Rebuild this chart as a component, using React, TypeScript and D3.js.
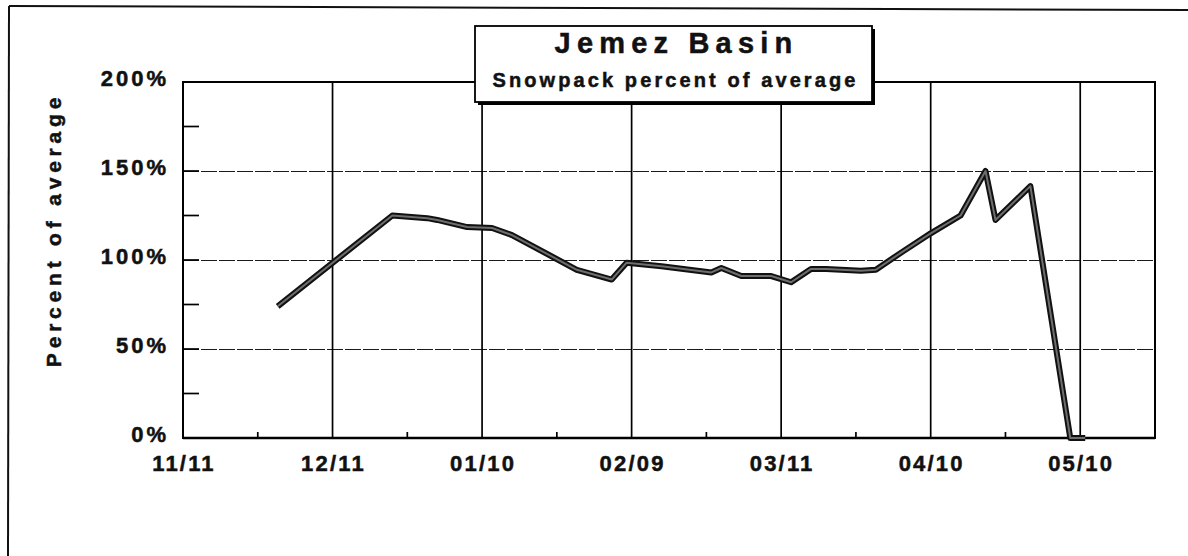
import React from "react";
import * as d3 from "d3";

const dates = [
  "11/30/2000", "12/23/2000", "12/30/2000", "01/01/2001", "01/07/2001", "01/12/2001",
  "01/16/2001", "01/29/2001", "02/05/2001", "02/08/2001", "02/15/2001", "02/25/2001",
  "02/27/2001", "03/03/2001", "03/09/2001", "03/13/2001", "03/17/2001", "03/20/2001",
  "03/27/2001", "03/30/2001", "04/04/2001", "04/10/2001", "04/16/2001", "04/21/2001",
  "04/23/2001", "04/30/2001", "05/08/2001", "05/11/2001",
];
const percentOfAverage = [
  74, 125, 123.5, 122.5, 118.5, 118,
  114, 94.5, 89, 98.5, 96.5, 93,
  95.5, 91, 91, 87.5, 95, 95,
  94, 94.5, 104, 115, 125, 150,
  122.5, 141.5, 0, 0,
];
const xTickDates = ["11/11/2000", "12/11/2000", "01/10/2001", "02/09/2001", "03/11/2001", "04/10/2001", "05/10/2001"];
const xMinorDates = ["11/26/2000", "12/26/2000", "01/25/2001", "02/24/2001", "03/26/2001", "04/25/2001", "05/25/2001"];
const xDomainDates = ["11/11/2000", "05/25/2001"];
const yTicks = [0, 50, 100, 150, 200];
const yMinorTicks = [25, 75, 125, 175];
const yGridValues = [50, 100, 150];
const title = "Jemez Basin";
const subtitle = "Snowpack percent of average";
const yAxisTitle = "Percent of average";

const parse = d3.timeParse("%m/%d/%Y");
const fmt = d3.timeFormat("%m/%d");

const FONT = "'Liberation Sans', Arial, Helvetica, sans-serif";

export default function App() {
  const left = 183, right = 1155, top = 82, bottom = 438;
  const x = d3.scaleTime()
    .domain(xDomainDates.map((d) => parse(d) as Date))
    .range([left, right]);
  const y = d3.scaleLinear().domain([0, 200]).range([bottom, top]);

  const pts = dates.map((d, i) => [parse(d) as Date, percentOfAverage[i]] as [Date, number]);
  const line = d3.line<[Date, number]>().x((d) => x(d[0])).y((d) => y(d[1]));
  const path = line(pts) || "";

  const boxX = 475, boxY = 26, boxW = 397, boxH = 76;
  const textStroke = { stroke: "#111", strokeWidth: 0.5 };

  return (
    <svg
      width={1188}
      height={556}
      style={{ position: "absolute", left: 0, top: 0, background: "#fff" }}
      fontFamily={FONT}
    >
      <rect x={0} y={0} width={1188} height={556} fill="#fff" />
      {/* outer frame */}
      <line x1={9} y1={6} x2={1188} y2={10} stroke="#111" strokeWidth={2} />
      <line x1={9} y1={6} x2={8} y2={556} stroke="#111" strokeWidth={2} />

      {/* horizontal gridlines */}
      {yGridValues.map((v) => (
        <line key={"hg" + v} x1={left} x2={right} y1={y(v) + 0.5} y2={y(v) + 0.5} stroke="#1a1a1a" strokeWidth={1} strokeDasharray="16 2" shapeRendering="crispEdges" />
      ))}
      {/* vertical gridlines */}
      {xTickDates.slice(1).map((d) => (
        <line key={"vg" + d} x1={x(parse(d) as Date)} x2={x(parse(d) as Date)} y1={top} y2={bottom} stroke="#000" strokeWidth={1.7} />
      ))}
      {/* y ticks (inside) */}
      {yTicks.concat(yMinorTicks).map((v) => (
        <line key={"yt" + v} x1={left} x2={left + 16} y1={y(v)} y2={y(v)} stroke="#000" strokeWidth={1.7} />
      ))}
      {/* x minor ticks */}
      {xMinorDates.map((d) => (
        <line key={"xm" + d} x1={x(parse(d) as Date)} x2={x(parse(d) as Date)} y1={bottom} y2={bottom - 6} stroke="#000" strokeWidth={1.7} />
      ))}
      {/* plot frame */}
      <rect x={left} y={top} width={right - left} height={bottom - top} fill="none" stroke="#000" strokeWidth={2} />
      <line x1={left} x2={right} y1={bottom} y2={bottom} stroke="#000" strokeWidth={2.6} />

      {/* data line */}
      <path d={path} fill="none" stroke="#111" strokeWidth={6} strokeLinejoin="round" strokeLinecap="butt" />
      <path d={path} fill="none" stroke="#6e6e6e" strokeWidth={2} strokeLinejoin="round" strokeLinecap="butt" />

      {/* y tick labels */}
      {yTicks.map((v) => (
        <text key={"yl" + v} x={169} y={y(v) + 3.5} textAnchor="end" fontSize={22} fontWeight="bold" letterSpacing={3} fill="#111" {...textStroke}>
          {v + "%"}
        </text>
      ))}
      {/* x tick labels */}
      {xTickDates.map((d) => (
        <text key={"xl" + d} x={x(parse(d) as Date) + 1} y={471} textAnchor="middle" fontSize={22} fontWeight="bold" letterSpacing={2.2} fill="#111" {...textStroke}>
          {fmt(parse(d) as Date)}
        </text>
      ))}
      {/* y axis title */}
      <text
        transform={`translate(61, 230) rotate(-90)`}
        textAnchor="middle"
        fontSize={21}
        fontWeight="bold"
        letterSpacing={4.8}
        fill="#111"
        {...textStroke}
      >
        {yAxisTitle}
      </text>

      {/* title box */}
      <rect x={boxX + 3} y={boxY + 3} width={boxW} height={boxH} fill="#000" />
      <rect x={boxX} y={boxY} width={boxW} height={boxH} fill="#fff" stroke="#000" strokeWidth={1.8} />
      <text x={boxX + boxW / 2 + 3} y={53} textAnchor="middle" fontSize={29} fontWeight="bold" letterSpacing={6.2} fill="#111" {...textStroke}>
        {title}
      </text>
      <text x={boxX + boxW / 2 + 2} y={87} textAnchor="middle" fontSize={20} fontWeight="bold" letterSpacing={3.1} fill="#111" {...textStroke}>
        {subtitle}
      </text>
    </svg>
  );
}
